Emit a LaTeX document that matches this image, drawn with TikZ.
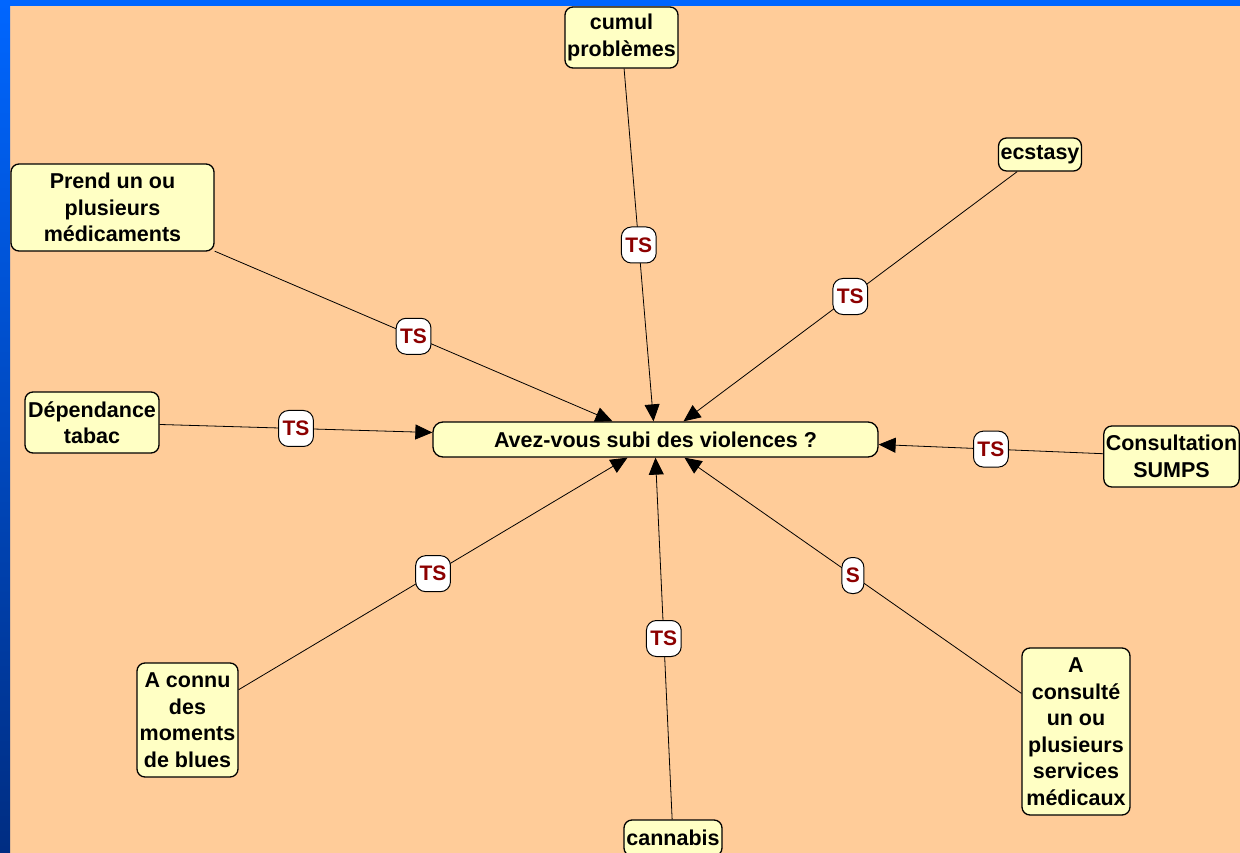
\documentclass[tikz,border=0pt]{standalone}
\usepackage{fontspec}
\setmainfont{Liberation Sans}
\usetikzlibrary{arrows.meta}

\definecolor{peach}{RGB}{255,204,153}
\definecolor{paleyellow}{RGB}{255,255,196}
\definecolor{darkred}{RGB}{140,0,0}
\definecolor{slideblue}{RGB}{0,102,255}
\definecolor{navyblue}{RGB}{0,45,130}

\begin{document}
\begin{tikzpicture}[
    x=1pt, y=-1pt,
    box/.style={rectangle, draw, line width=1.3pt, rounded corners=8pt, fill=paleyellow, align=center, inner sep=2pt, font=\fontsize{21.5}{26.5}\selectfont\bfseries},
    tag/.style={rectangle, draw, line width=1pt, rounded corners=10pt, fill=white, text=darkred, minimum height=36pt, inner xsep=4pt, font=\fontsize{21}{24}\selectfont\bfseries},
    arrow/.style={-{Triangle[length=17pt, width=15pt]}, line width=0.8pt},
]

% Slide background
\useasboundingbox (0,0) rectangle (1240,853);
\fill[peach] (0,0) rectangle (1240,853);
\shade[top color=slideblue, bottom color=navyblue] (0,0) rectangle (10,853);
\fill[slideblue] (0,0) rectangle (1240,6);

\node[box, minimum width=445pt, minimum height=35pt, rounded corners=10pt] (ctr) at (655.5,439.5) {Avez-vous subi des violences~?};

\node[box, minimum width=113pt, minimum height=61pt] (cumul) at (621.5,37.5) {cumul\\problèmes};
\node[box, minimum width=80pt, minimum height=33pt] (ecstasy) at (1040,154.5) {ecstasy};
\node[box, minimum width=203pt, minimum height=87pt] (prend) at (112.5,207.5) {Prend un ou\\plusieurs\\médicaments};
\node[box, minimum width=134pt, minimum height=61pt] (tabac) at (92,422.5) {Dépendance\\tabac};
\node[box, minimum width=133pt, minimum height=61pt] (sumps) at (1171.5,456.5) {Consultation\\SUMPS};
\node[box, minimum width=101pt, minimum height=114pt] (blues) at (187.5,720) {A connu\\des\\moments\\de blues};
\node[box, minimum width=98pt, minimum height=36pt] (cannabis) at (673,838) {cannabis};
\node[box, minimum width=108pt, minimum height=167pt] (medic) at (1076,731.5) {A\\consulté\\un ou\\plusieurs\\services\\médicaux};

% Links to the question
\draw[arrow] (cumul) -- node[tag] {TS} ([xshift=-2pt]ctr.north);
\draw[arrow] (ecstasy) -- node[tag] {TS} ([xshift=28pt]ctr.north);
\draw[arrow] (prend) -- node[tag] {TS} ([xshift=-43pt]ctr.north);
\draw[arrow] (tabac) -- node[tag] {TS} ([yshift=7pt]ctr.west);
\draw[arrow] (sumps) -- node[tag] {TS} ([yshift=-5pt]ctr.east);
\draw[arrow] (blues) -- node[tag] {TS} ([xshift=-28pt]ctr.south);
\draw[arrow] (cannabis) -- node[tag] {TS} (ctr.south);
\draw[arrow] (medic) -- node[tag] {S} ([xshift=29pt]ctr.south);

\end{tikzpicture}
\end{document}
